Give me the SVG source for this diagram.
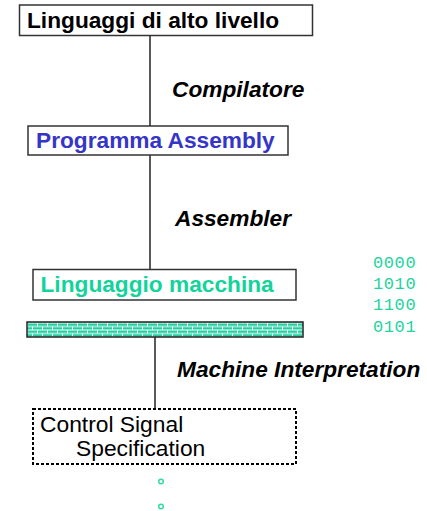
<svg xmlns="http://www.w3.org/2000/svg" width="427" height="511" viewBox="0 0 427 511">
<style>
.box{fill:#fff;stroke:#333;stroke-width:1.5}
.lbl{font-family:"Liberation Sans",Arial,sans-serif;font-weight:bold;font-size:22.7px}
.edge{font-family:"Liberation Sans",Arial,sans-serif;font-weight:bold;font-style:italic;font-size:22.7px;fill:#000}
.reg{font-family:"Liberation Sans",Arial,sans-serif;font-size:22.8px;fill:#000}
.bin{font-family:"Liberation Mono","Courier New",monospace;font-size:17px;letter-spacing:0.6px;fill:#22d49c}
.conn{stroke:#222;stroke-width:1.5;fill:none}
.dot{fill:#fff;stroke:#33d9a6;stroke-width:1.5}
</style>
<defs>
<pattern id="brick" x="27" y="322.5" width="10" height="7" patternUnits="userSpaceOnUse">
<rect width="10" height="7" fill="#22cfa0"/>
<path d="M0 0.5H10M0 4H10M0.5 0.5V4M5.5 4V7" stroke="#fff" stroke-width="1"/>
</pattern>
</defs>
<g id="connectors">
<line class="conn" x1="150" y1="35.5" x2="150" y2="126"/>
<line class="conn" x1="150" y1="155" x2="150" y2="269"/>
<line class="conn" x1="155" y1="337" x2="155" y2="409"/>
</g>
<g id="edge-labels">
<text class="edge" x="172" y="97">Compilatore</text>
<text class="edge" x="175" y="226">Assembler</text>
<text class="edge" x="177" y="377">Machine Interpretation</text>
</g>
<g id="n1">
<rect class="box" x="19.5" y="5" width="293" height="30.5"/>
<text class="lbl" x="27" y="28" fill="#000">Linguaggi di alto livello</text>
</g>
<g id="n2">
<rect class="box" x="28" y="126" width="260" height="29"/>
<text class="lbl" x="36" y="147.5" fill="#3535c8">Programma Assembly</text>
</g>
<g id="n3">
<rect class="box" x="33" y="269.5" width="263" height="30.5"/>
<text class="lbl" x="40.5" y="292" fill="#12d49a">Linguaggio macchina</text>
</g>
<g id="bar">
<rect x="27" y="322" width="276" height="15" fill="url(#brick)" stroke="#222" stroke-width="1.5"/>
</g>
<g id="binary">
<text class="bin" x="373" y="267.5">0000</text>
<text class="bin" x="373" y="289">1010</text>
<text class="bin" x="373" y="310">1100</text>
<text class="bin" x="373" y="331.5">0101</text>
</g>
<g id="n4">
<rect x="33" y="409" width="263" height="55" fill="#fff" stroke="#000" stroke-width="2" stroke-dasharray="3,2"/>
<text class="reg" x="40" y="432">Control Signal</text>
<text class="reg" x="76" y="456">Specification</text>
</g>
<g id="dots">
<circle class="dot" cx="161" cy="481.5" r="2.3"/>
<circle class="dot" cx="161" cy="506.5" r="2.3"/>
</g>
</svg>
